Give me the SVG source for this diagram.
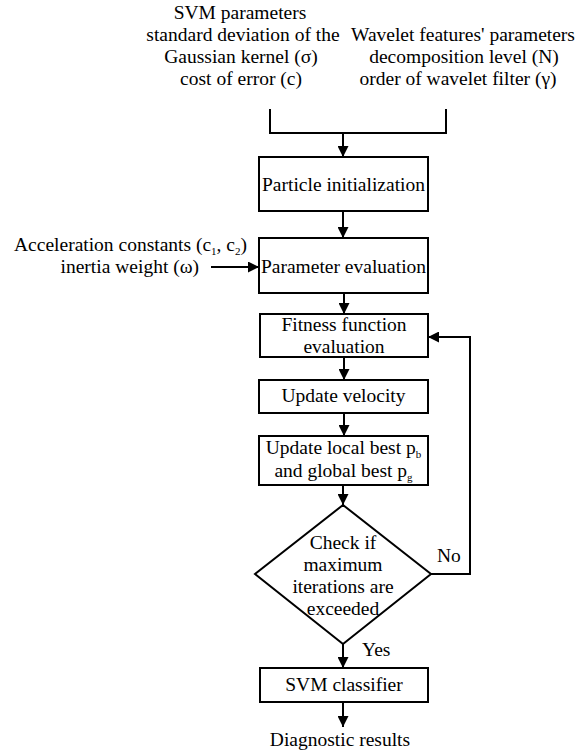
<svg xmlns="http://www.w3.org/2000/svg" width="585" height="753" viewBox="0 0 585 753">
<defs>
<marker id="ah" markerWidth="11" markerHeight="11" viewBox="0 0 11 11" refX="11" refY="5.5" orient="auto" markerUnits="userSpaceOnUse">
<path d="M0,0 L11,5.5 L0,11 Z" fill="#000"/>
</marker>
<style>
text{font-family:"Liberation Serif","Times New Roman",serif;font-size:19.5px;fill:#000}
.c{text-anchor:middle}
.r{text-anchor:end}
.box{fill:#fff;stroke:#000;stroke-width:2}
.ln{fill:none;stroke:#000;stroke-width:2}
.ar{fill:none;stroke:#000;stroke-width:2;marker-end:url(#ah)}
.sub{font-size:11px}
</style>
</defs>
<rect width="585" height="753" fill="#fff"/>
<g id="svm-params">
<text class="c" x="240" y="19">SVM parameters</text>
<text class="c" x="243" y="41">standard deviation of the</text>
<text class="c" x="241" y="63">Gaussian kernel (σ)</text>
<text class="c" x="241" y="85">cost of error (c)</text>
</g>
<g id="wavelet-params">
<text class="c" x="463" y="41">Wavelet features' parameters</text>
<text class="c" x="464" y="63">decomposition level (N)</text>
<text class="c" x="458" y="85">order of wavelet filter (γ)</text>
</g>
<g id="pso-constants">
<text class="r" x="247" y="251">Acceleration constants (c<tspan class="sub" dy="4">1</tspan><tspan dy="-4">, c</tspan><tspan class="sub" dy="4">2</tspan><tspan dy="-4">)</tspan></text>
<text class="r" x="199" y="273">inertia weight (ω)</text>
</g>
<g id="particle-init">
<rect class="box" x="259" y="157" width="169" height="54"/>
<text class="c" x="343.5" y="191">Particle initialization</text>
</g>
<g id="param-eval">
<rect class="box" x="259" y="238" width="169" height="55"/>
<text class="c" x="343.5" y="273">Parameter evaluation</text>
</g>
<g id="fitness">
<rect class="box" x="260" y="314" width="168" height="43"/>
<text class="c" x="344" y="331">Fitness function</text>
<text class="c" x="344" y="353">evaluation</text>
</g>
<g id="update-velocity">
<rect class="box" x="259" y="380" width="169" height="33"/>
<text class="c" x="343.5" y="402">Update velocity</text>
</g>
<g id="update-best">
<rect class="box" x="259" y="436" width="169" height="49"/>
<text class="c" x="343.5" y="454">Update local best p<tspan class="sub" dy="4">b</tspan></text>
<text class="c" x="343.5" y="477">and global best p<tspan class="sub" dy="4">g</tspan></text>
</g>
<g id="check">
<polygon class="box" points="343,505 431,574 343,644 255,574"/>
<text class="c" x="343" y="549">Check if</text>
<text class="c" x="343" y="571">maximum</text>
<text class="c" x="343" y="593">iterations are</text>
<text class="c" x="343" y="615">exceeded</text>
</g>
<g id="svm-classifier">
<rect class="box" x="260" y="668" width="168" height="34"/>
<text class="c" x="344" y="691">SVM classifier</text>
</g>
<g id="results">
<text class="c" x="340" y="746">Diagnostic results</text>
</g>
<g id="connectors">
<polyline class="ln" points="270,109 270,133 446,133 446,109"/>
<line class="ar" x1="343" y1="133" x2="343" y2="157"/>
<line class="ar" x1="343" y1="211" x2="343" y2="238"/>
<line class="ar" x1="211" y1="267" x2="259" y2="267"/>
<line class="ar" x1="344" y1="293" x2="344" y2="314"/>
<line class="ar" x1="344" y1="357" x2="344" y2="380"/>
<line class="ar" x1="344" y1="413" x2="344" y2="436"/>
<line class="ar" x1="343" y1="485" x2="343" y2="505"/>
<polyline class="ar" points="431,574 470,574 470,337 428,337"/>
<line class="ar" x1="343" y1="644" x2="343" y2="668"/>
<line class="ar" x1="343" y1="702" x2="343" y2="727"/>
<text x="437" y="562">No</text>
<text x="362" y="656">Yes</text>
</g>
</svg>
